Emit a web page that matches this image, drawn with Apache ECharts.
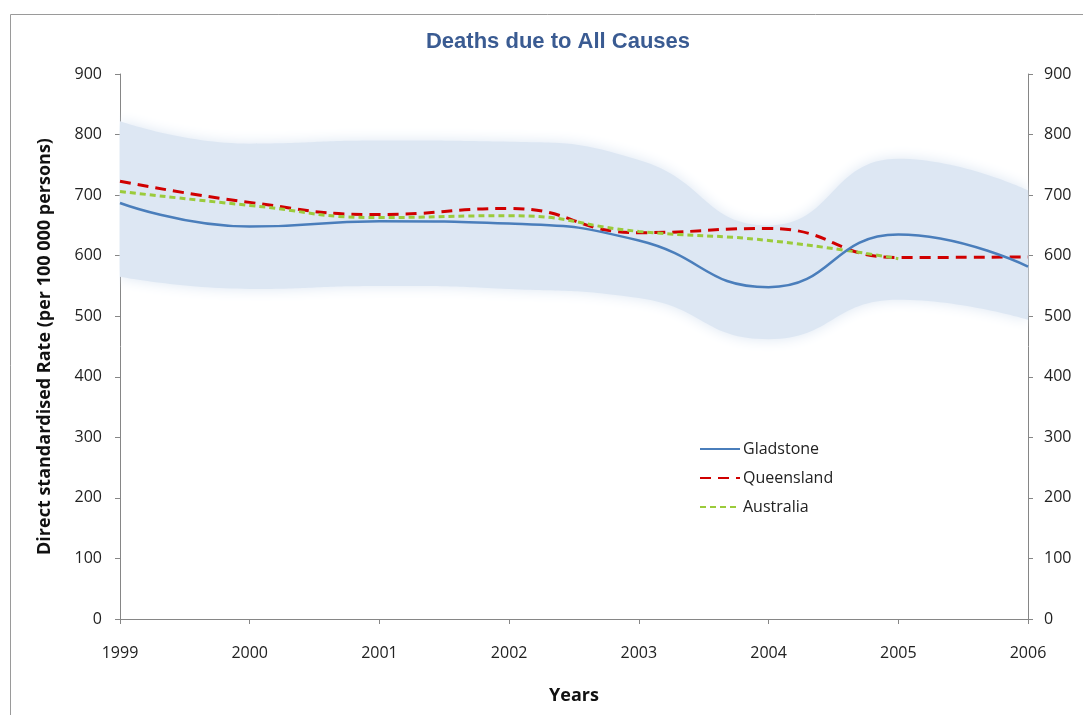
<!DOCTYPE html>
<html>
<head>
<meta charset="utf-8">
<script src="https://cdn.jsdelivr.net/npm/echarts@6/dist/echarts.min.js"></script>
<style>
  html, body { margin: 0; padding: 0; background: #fff; }
  #vis { width: 1083px; height: 715px; }
</style>
</head>
<body>
<div id="vis"></div>
<script>
// years on the x axis
const years = ['1999', '2000', '2001', '2002', '2003', '2004', '2005', '2006'];

// rates per 100 000 persons
const gladstone = [687, 648, 657, 653, 625, 548, 635, 582];
const queensland = [723, 688, 668, 678, 638, 645, 597, 598];
const australia = [706, 683, 663, 666, 640, 625, 595, null];

// shaded confidence band around Gladstone
const bandLow = [565, 545, 550, 545, 530, 462, 527, 494];
const bandHigh = [822, 785, 790, 788, 758, 650, 760, 708];

const yTicks = [0, 100, 200, 300, 400, 500, 600, 700, 800, 900];

const font = "'Open Sans', 'Noto Sans', sans-serif";
const bandColor = '#dde7f3';
const axisColor = '#868686';

const chart = echarts.init(document.getElementById('vis'), null, { renderer: 'canvas' });

const bandDiff = bandHigh.map((v, i) => v - bandLow[i]);

const yAxisBase = {
  type: 'value',
  min: yTicks[0],
  max: yTicks[yTicks.length - 1],
  interval: 100,
  splitLine: { show: false },
  axisLine: { show: true, lineStyle: { color: axisColor, width: 1 } },
  axisTick: { show: true, length: 5, lineStyle: { color: axisColor } },
  axisLabel: { color: '#222', fontFamily: font, fontSize: 16 }
};

const options = {
  animation: false,
  backgroundColor: '#fff',
  title: {
    text: 'Deaths due to All Causes',
    left: 553,
    textAlign: 'center',
    top: 26,
    textStyle: {
      color: '#3a5b92',
      fontFamily: "'Liberation Sans', sans-serif",
      fontWeight: 'bold',
      fontSize: 22
    }
  },
  grid: { left: 120, right: 55, top: 74, bottom: 96 },
  legend: {
    orient: 'vertical',
    left: 694,
    top: 436,
    itemWidth: 40,
    itemHeight: 14,
    itemGap: 13,
    itemStyle: { opacity: 0 },
    data: ['Gladstone', 'Queensland', 'Australia'],
    textStyle: { color: '#222', fontFamily: font, fontSize: 16, padding: [0, 0, 0, -2] }
  },
  xAxis: {
    type: 'category',
    data: years,
    boundaryGap: false,
    name: 'Years',
    nameLocation: 'middle',
    nameGap: 68,
    nameTextStyle: { color: '#111', fontFamily: font, fontWeight: 'bold', fontSize: 18 },
    axisLine: { lineStyle: { color: axisColor } },
    axisTick: { show: true, length: 5, alignWithLabel: true, lineStyle: { color: axisColor } },
    axisLabel: { color: '#222', fontFamily: font, fontSize: 16, margin: 26 },
    splitLine: { show: false }
  },
  yAxis: [
    Object.assign({}, yAxisBase, {
      position: 'left',
      name: 'Direct standardised Rate (per 100 000 persons)',
      nameLocation: 'middle',
      nameGap: 66,
      nameTextStyle: { color: '#111', fontFamily: font, fontWeight: 'bold', fontSize: 18 },
      axisLabel: Object.assign({}, yAxisBase.axisLabel, { margin: 18 })
    }),
    Object.assign({}, yAxisBase, {
      position: 'right',
      axisLabel: Object.assign({}, yAxisBase.axisLabel, { margin: 16 })
    })
  ],
  series: [
    {
      name: 'bandLow',
      type: 'line',
      stack: 'band',
      data: bandLow,
      smooth: 0.5,
      symbol: 'none',
      lineStyle: { opacity: 0 },
      silent: true,
      z: 1
    },
    {
      name: 'band',
      type: 'line',
      stack: 'band',
      data: bandDiff,
      smooth: 0.5,
      symbol: 'none',
      lineStyle: { opacity: 0 },
      areaStyle: { color: bandColor, opacity: 1, shadowBlur: 14, shadowColor: bandColor },
      silent: true,
      z: 1
    },
    {
      name: 'Gladstone',
      type: 'line',
      data: gladstone,
      smooth: 0.5,
      symbol: 'none',
      lineStyle: { color: '#4a7ebb', width: 2.5 },
      itemStyle: { color: '#4a7ebb' },
      z: 4
    },
    {
      name: 'Queensland',
      type: 'line',
      data: queensland,
      smooth: 0.5,
      symbol: 'none',
      lineStyle: { color: '#d00000', width: 3, type: [11, 7] },
      itemStyle: { color: '#d00000' },
      z: 3
    },
    {
      name: 'Australia',
      type: 'line',
      data: australia,
      smooth: 0.5,
      symbol: 'none',
      lineStyle: { color: '#9bcb3b', width: 3, type: [6, 4] },
      itemStyle: { color: '#9bcb3b' },
      z: 3
    }
  ],
  graphic: [
    {
      type: 'rect',
      shape: { x: 10.5, y: 14.5, width: 1100, height: 720 },
      style: { fill: 'none', stroke: '#9a9a9a', lineWidth: 1 },
      silent: true,
      z: -1
    }
  ]
};

chart.setOption(options);
window.addEventListener('resize', () => chart.resize());
</script>
</body>
</html>
